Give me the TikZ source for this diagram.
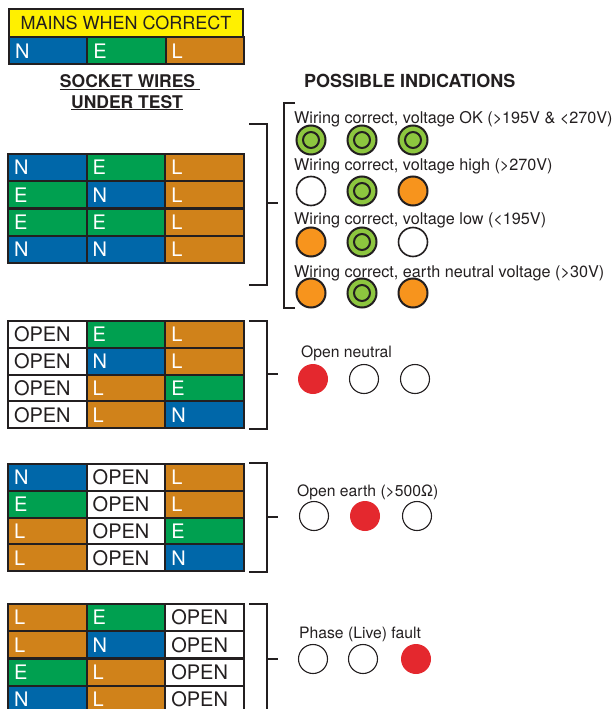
\documentclass[tikz,border=0pt]{standalone}
\usepackage{fontspec}
\setmainfont{TeX Gyre Heros}
\usetikzlibrary{positioning}

\definecolor{wireblue}{RGB}{0,103,169}
\definecolor{wiregreen}{RGB}{0,160,80}
\definecolor{wirebrown}{RGB}{208,130,26}
\definecolor{mainsyellow}{RGB}{255,240,0}
\definecolor{ledgreen}{RGB}{141,198,63}
\definecolor{ledorange}{RGB}{247,148,29}
\definecolor{ledred}{RGB}{228,40,46}
\definecolor{inkgray}{RGB}{35,31,32}

\begin{document}
\begin{tikzpicture}[x=1pt,y=-1pt,
		wire/.style={draw=inkgray,line width=2pt,anchor=north west,minimum height=27pt,
			text width=66.7pt,inner xsep=6pt,inner ysep=0pt,align=left,
			font=\fontsize{20}{21}\selectfont},
		wire N/.style={wire,fill=wireblue,text=white},
		wire E/.style={wire,fill=wiregreen,text=white},
		wire L/.style={wire,fill=wirebrown,text=white},
		wire OPEN/.style={wire,fill=white,text=inkgray},
		bracket/.style={draw=inkgray,line width=1.8pt},
		heading/.style={font=\fontsize{17.5}{20}\selectfont\bfseries,text=inkgray,inner sep=0pt},
		note/.style={font=\fontsize{16.2}{18}\selectfont,text=inkgray,inner sep=0pt,anchor=base west},
		fault/.style={note,font=\fontsize{15.7}{18}\selectfont},
		led/.style={circle,draw=inkgray,minimum size=29pt,inner sep=0pt},
		led on/.style={led,fill=ledgreen,line width=2pt,
			path picture={\draw[inkgray,line width=2pt] (path picture bounding box.center) circle (8pt);}},
		led off/.style={led,fill=white,line width=1.6pt},
		led amber/.style={led,fill=ledorange,line width=2pt},
		led blank/.style={led,fill=white,line width=1.1pt},
		led red/.style={led,fill=ledred,draw=none,minimum size=30pt}]

	\useasboundingbox (0,0) rectangle (613,709);
	\clip (0,0) rectangle (613,709);

	% mains reference
	\node[draw=inkgray,line width=2pt,fill=mainsyellow,anchor=north west,minimum width=234pt,
		minimum height=28pt,inner sep=0pt,text=inkgray,font=\fontsize{18}{20}\selectfont]
		(mains) at (8,8) {MAINS WHEN CORRECT};
	\node[wire N] (mainsN) at (8,36.5) {N};
	\node[wire E] (mainsE) at (86.3,36.5) {E};
	\node[wire L] (mainsL) at (164.6,36.5) {L};

	\node[heading,anchor=base] (socket) at (130,88) {\underline{SOCKET WIRES\ }};
	\node[heading,anchor=base] (undertest) at (127,108) {\underline{UNDER TEST}};
	\node[heading,anchor=base west,font=\fontsize{18}{20}\selectfont\bfseries] (possible) at (304,87) {POSSIBLE INDICATIONS};

	% wiring correct
	\foreach \a/\b/\c [count=\i from 0] in {N/E/L,E/N/L,E/E/L,N/N/L}{
		\pgfmathsetmacro\rowy{153+27.25*\i}
		\node[wire \a] (ok-\i-a) at (7,\rowy) {\a};
		\node[wire \b] (ok-\i-b) at (85.7,\rowy) {\b};
		\node[wire \c] (ok-\i-c) at (164.3,\rowy) {\c};
	}
	\draw[bracket] (249,124) -- (267,124) -- (267,285) -- (249,285)
		(267,203) -- (278,203);
	\draw[bracket] (295,103) -- (284,103) -- (284,308) -- (295,308);

	\node[note] (okText) at (294,123) {Wiring correct, voltage OK (>195V \& <270V)};
	\node[note] (highText) at (294,170) {Wiring correct, voltage high (>270V)};
	\node[note] (lowText) at (294,224) {Wiring correct, voltage low (<195V)};
	\node[note] (enText) at (294,277) {Wiring correct, earth neutral voltage (>30V)};

	\foreach \p/\q/\r/\y [count=\i] in {on/on/on/140,off/on/amber/191,amber/on/off/242,amber/on/amber/293}{
		\node[led \p] (ok\i-1) at (311,\y) {};
		\node[led \q] (ok\i-2) at (362,\y) {};
		\node[led \r] (ok\i-3) at (413,\y) {};
	}

	% open neutral
	\foreach \a/\b/\c [count=\i from 0] in {OPEN/E/L,OPEN/N/L,OPEN/L/E,OPEN/L/N}{
		\pgfmathsetmacro\rowy{320+26.75*\i}
		\node[wire \a] (on-\i-a) at (7,\rowy) {\a};
		\node[wire \b] (on-\i-b) at (85.7,\rowy) {\b};
		\node[wire \c] (on-\i-c) at (164.3,\rowy) {\c};
	}
	\draw[bracket] (249,321) -- (267,321) -- (267,429) -- (249,429)
		(267,374) -- (278,374);
	\node[fault] (onText) at (301,357) {Open neutral};
	\node[led red] (on1) at (313,379) {};
	\node[led blank] (on2) at (364,379) {};
	\node[led blank] (on3) at (415,379) {};

	% open earth
	\foreach \a/\b/\c [count=\i from 0] in {N/OPEN/L,E/OPEN/L,L/OPEN/E,L/OPEN/N}{
		\pgfmathsetmacro\rowy{463+26.75*\i}
		\node[wire \a] (oe-\i-a) at (7,\rowy) {\a};
		\node[wire \b] (oe-\i-b) at (85.7,\rowy) {\b};
		\node[wire \c] (oe-\i-c) at (164.3,\rowy) {\c};
	}
	\draw[bracket] (249,463) -- (267,463) -- (267,572) -- (249,572)
		(267,517) -- (278,517);
	\node[fault] (oeText) at (297,496) {Open earth (>500Ω)};
	\node[led blank] (oe1) at (314,516) {};
	\node[led red] (oe2) at (365,516) {};
	\node[led blank] (oe3) at (417,516) {};

	% phase fault
	\foreach \a/\b/\c [count=\i from 0] in {L/E/OPEN,L/N/OPEN,E/L/OPEN,N/L/OPEN}{
		\pgfmathsetmacro\rowy{603+27.3*\i}
		\node[wire \a] (pf-\i-a) at (7,\rowy) {\a};
		\node[wire \b] (pf-\i-b) at (85.7,\rowy) {\b};
		\node[wire \c] (pf-\i-c) at (164.3,\rowy) {\c};
	}
	\draw[bracket] (249,604) -- (267,604) -- (267,720)
		(267,659) -- (278,659);
	\node[fault] (pfText) at (299,638) {Phase (Live) fault};
	\node[led blank] (pf1) at (313,659) {};
	\node[led blank] (pf2) at (363,659) {};
	\node[led red] (pf3) at (416,659) {};

\end{tikzpicture}
\end{document}
